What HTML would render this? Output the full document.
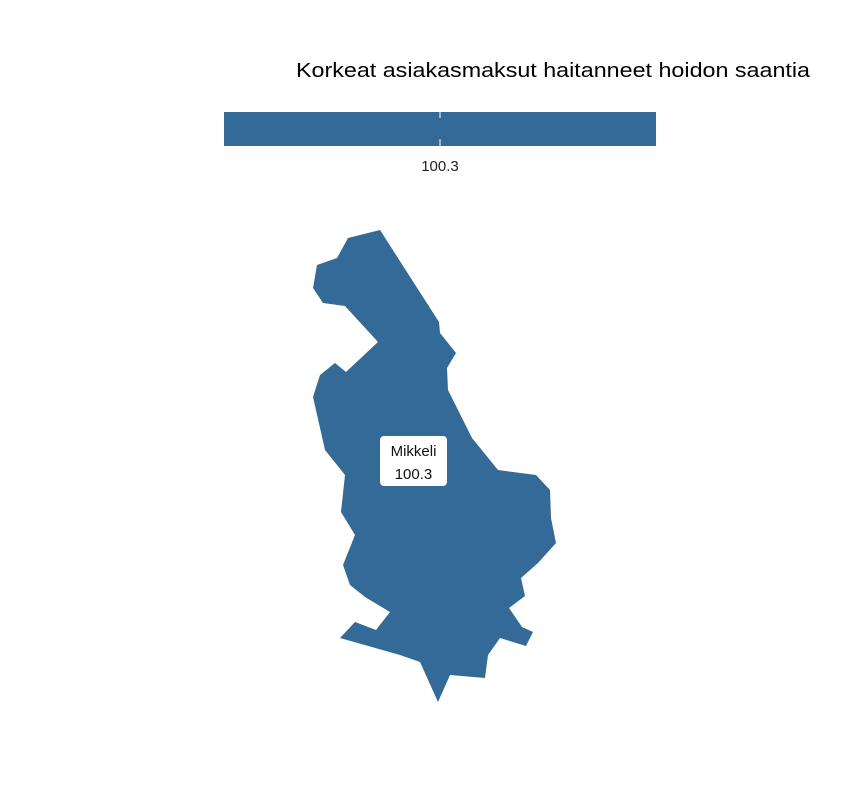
<!DOCTYPE html>
<html><head><meta charset="utf-8"><style>
body{margin:0;background:#fff;font-family:"Liberation Sans",sans-serif}
svg{display:block}
</style></head><body>
<svg id="chart" width="864" height="792" viewBox="0 0 864 792">
<text x="810" y="77" text-anchor="end" font-size="20" textLength="514" lengthAdjust="spacingAndGlyphs" fill="#000">Korkeat asiakasmaksut haitanneet hoidon saantia</text>
<g id="legend"></g>
<g id="map"></g>
<g id="labels"></g>
</svg>
<script>
const regions = ["Mikkeli"];
const values = [100.3];
const legendTicks = [100.3];
const NS = "http://www.w3.org/2000/svg";
const shape = "348,238 380,230 439,322 440,333 456,353 447,368 448,390 472,438 498,470 536,475 550,490 551,518 556,543 538,563 521,578 525,596 509,608 522,627 533,632 526,646 500,638 488,655 485,678 450,675 438,702 420,662 400,655 340,638 355,622 376,630 390,612 365,597 350,585 343,565 355,535 341,512 345,475 325,450 313,397 320,375 335,363 346,372 378,342 345,306 323,303 313,288 317,265 337,258";
const vmin = Math.min(...values), vmax = Math.max(...values);
function color(v){ return "#346a98"; }
function lx(v){ return vmax===vmin ? 440 : 224 + (v - vmin)/(vmax - vmin)*432; }
const lg = document.getElementById("legend");
const bar = document.createElementNS(NS,"rect");
bar.setAttribute("x",224);bar.setAttribute("y",112);bar.setAttribute("width",432);bar.setAttribute("height",34);bar.setAttribute("fill",color(vmin));


lg.appendChild(bar);
legendTicks.forEach(t=>{
  const x = lx(t);
  [[112,118],[139,146]].forEach(([a,b])=>{
    const l=document.createElementNS(NS,"line");
    l.setAttribute("x1",x);l.setAttribute("x2",x);l.setAttribute("y1",a);l.setAttribute("y2",b);l.setAttribute("stroke","#fff");l.setAttribute("stroke-width",1);
    
    
    lg.appendChild(l);
  });
  const tx=document.createElementNS(NS,"text");
  tx.setAttribute("x",x);tx.setAttribute("y",171);tx.setAttribute("text-anchor","middle");tx.setAttribute("font-size","15");tx.setAttribute("fill","#222");
  tx.textContent=t;
  
  
  lg.appendChild(tx);
});
const mp=document.getElementById("map"), lb=document.getElementById("labels");
regions.forEach((r,i)=>{
  const p=document.createElementNS(NS,"polygon");
  p.setAttribute("points",shape);p.setAttribute("fill",color(values[i]));
  
  
  mp.appendChild(p);
  const box=document.createElementNS(NS,"rect");
  box.setAttribute("x",380);box.setAttribute("y",436);box.setAttribute("width",67);box.setAttribute("height",50);box.setAttribute("rx",4);box.setAttribute("fill","#fff");
  
  
  lb.appendChild(box);
  [[r,456],[values[i],479]].forEach(([s,y])=>{
    const t=document.createElementNS(NS,"text");
    t.setAttribute("x",413.5);t.setAttribute("y",y);t.setAttribute("text-anchor","middle");t.setAttribute("font-size","15");t.setAttribute("fill","#111");
    t.textContent=s;
    
    
    lb.appendChild(t);
  });
});
</script>
</body></html>
